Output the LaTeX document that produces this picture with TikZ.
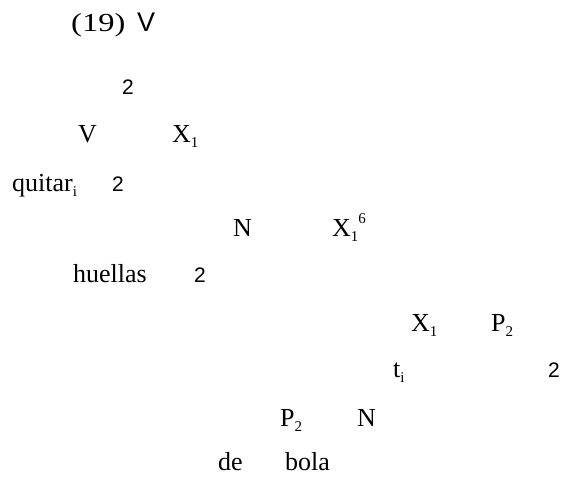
\documentclass[tikz,border=0pt]{standalone}
\usepackage{fontspec}
\setmainfont{Liberation Serif}
\newfontfamily\sansf{Liberation Sans}
\newcommand{\tsub}[1]{\raisebox{-4.5pt}{\fontsize{15}{15}\selectfont #1}}
\newcommand{\tsubsup}[2]{\raisebox{-4.5pt}{\fontsize{15}{15}\selectfont #1}\raisebox{13pt}{\fontsize{15}{15}\selectfont #2}}
\begin{document}
\begin{tikzpicture}[x=1pt,y=1pt,
  lbl/.style={inner sep=0pt, anchor=base west, font=\fontsize{26}{26}\selectfont},
  slbl/.style={inner sep=0pt, anchor=base west, font=\sansf\fontsize{21}{21}\selectfont}]
\useasboundingbox (0,0) rectangle (564,476);
\node[lbl]  (a) at (71,444) {\scalebox{1.25}[1]{(19)}};
\node[slbl, font=\sansf\fontsize{27}{27}\selectfont] (b) at (137,444) {V};
\node[slbl] (c) at (122,381) {2};
\node[lbl]  (d) at (78,333) {V};
\node[lbl]  (e) at (172,333) {X\tsub{1}};
\node[lbl]  (f) at (12,284) {quitar\tsub{i}};
\node[slbl] (g) at (112,284) {2};
\node[lbl]  (h) at (233,239) {N};
\node[lbl]  (i) at (332,239) {X\tsubsup{1}{6}};
\node[lbl]  (j) at (73,193) {huellas};
\node[slbl] (k) at (194,193) {2};
\node[lbl]  (l) at (411,144) {X\tsub{1}};
\node[lbl]  (m) at (491,144) {P\tsub{2}};
\node[lbl]  (n) at (393,98) {t\tsub{i}};
\node[slbl] (o) at (548,98) {2};
\node[lbl]  (p) at (280,49) {P\tsub{2}};
\node[lbl]  (q) at (357,49) {N};
\node[lbl]  (r) at (218,6) {de};
\node[lbl]  (s) at (285,6) {bola};
\end{tikzpicture}
\end{document}
